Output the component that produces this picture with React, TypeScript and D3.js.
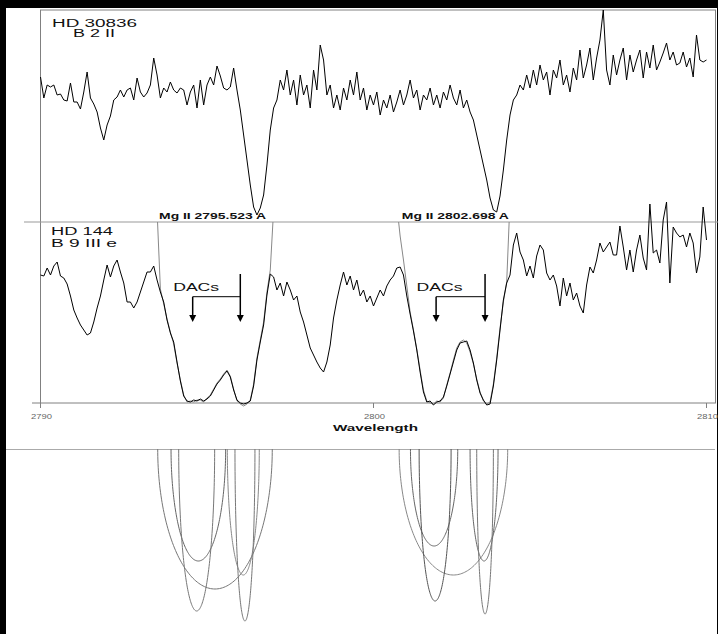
import React from 'react';
import * as d3 from 'd3';

// ---------- data ----------
const waveStart = 2790;
const waveStep = 0.1;

// HD 30836 (B2 II), relative flux, sampled every 0.1 A from 2790 A
const hd30836Flux = [
  145, 124, 137, 135, 137, 127, 128, 122, 121, 139,
  120, 120, 113, 130, 150, 124, 118, 110, 94, 82,
  97, 106, 122, 125, 132, 125, 132, 134, 122, 144,
  130, 125, 129, 137, 164, 147, 124, 134, 130, 140,
  132, 129, 134, 132, 117, 130, 137, 114, 142, 117,
  137, 145, 137, 156, 146, 134, 132, 135, 154, 132,
  112, 87, 62, 37, 15, 7, 14, 27, 57, 92,
  114, 122, 142, 132, 152, 127, 142, 117, 147, 127,
  137, 114, 152, 132, 177, 162, 127, 137, 114, 127,
  112, 134, 122, 142, 127, 150, 122, 134, 112, 127,
  117, 130, 107, 122, 114, 127, 110, 120, 132, 117,
  127, 142, 124, 132, 112, 127, 122, 134, 117, 127,
  114, 130, 122, 137, 124, 117, 132, 114, 122, 110,
  102, 87, 72, 57, 42, 24, 12, 10, 26, 52,
  82, 107, 122, 127, 137, 132, 147, 134, 152, 137,
  157, 142, 150, 127, 152, 144, 162, 137, 147, 130,
  154, 142, 172, 144, 157, 174, 142, 164, 182, 212,
  152, 137, 167, 147, 162, 174, 142, 167, 150, 162,
  172, 144, 170, 154, 177, 152, 160, 169, 179, 162,
  170, 157, 159, 170, 155, 164, 145, 187, 162, 160,
  162,
];

// HD 144 (B9 IIIe), relative flux, sampled every 0.1 A from 2790 A
const hd144Flux = [
  135, 134, 142, 135, 144, 148, 134, 132, 126, 114,
  100, 92, 85, 80, 75, 77, 88, 102, 114, 130,
  145, 133, 144, 150, 138, 127, 108, 108, 102, 108,
  118, 128, 138, 138, 144, 130, 118, 108, 90, 77,
  68, 48, 29, 14, 9, 8, 10, 9, 11, 9,
  11, 14, 20, 26, 30, 35, 39, 33, 20, 10,
  7, 6, 7, 9, 24, 50, 68, 85, 115, 136,
  133, 120, 127, 114, 128, 120, 110, 114, 98, 88,
  75, 62, 55, 48, 42, 38, 48, 65, 92, 110,
  125, 138, 125, 134, 120, 130, 114, 120, 108, 114,
  104, 112, 120, 114, 124, 130, 134, 142, 143, 135,
  114, 96, 79, 60, 38, 18, 8, 9, 5, 8,
  9, 13, 24, 36, 48, 60, 67, 68, 69, 60,
  47, 30, 17, 10, 5, 6, 24, 50, 80, 110,
  127, 135, 165, 177, 158, 150, 134, 144, 132, 154,
  165, 160, 137, 130, 135, 124, 104, 132, 114, 127,
  110, 117, 104, 97, 125, 143, 137, 150, 167, 158,
  163, 168, 155, 155, 184, 163, 140, 160, 138, 160,
  175, 152, 140, 206, 157, 160, 147, 190, 208, 127,
  183, 177, 173, 175, 163, 177, 167, 137, 153, 203,
  170,
];

// second (grey) HD 144 spectrum, only inside the Mg II troughs
const hd144AltLeftStart = 35;
const hd144AltLeft = [
  200, 121, 106, 91, 78, 66, 47, 30, 15, 8,
  9, 8, 10, 10, 8, 12, 15, 21, 27, 31,
  36, 40, 34, 21, 9, 6, 4, 6, 10, 26,
  52, 70, 88, 118, 140, 200,
];
const hd144AltRightStart = 107;
const hd144AltRight = [
  205, 174, 150, 124, 98, 80, 61, 40, 20, 9,
  7, 6, 9, 8, 12, 25, 37, 50, 62, 68,
  70, 67, 58, 46, 31, 18, 9, 6, 8, 26,
  52, 82, 108, 128, 210,
];

// model absorption components (DACs)
const compCenter = [2795.24, 2794.74, 2794.69, 2796.09, 2796.14, 2802.40, 2801.82, 2801.85, 2803.32, 2803.35];
const compHalfWidth = [1.72, 0.82, 0.54, 0.48, 0.30, 1.63, 0.71, 0.48, 0.42, 0.25];
const compDepth = [140, 112, 162, 126, 172, 126, 97, 152, 112, 165];
const compColor = ['#777', '#666', '#777', '#888', '#777', '#888', '#666', '#555', '#666', '#777'];

const xTicks = [2790, 2800, 2810];
const lineLabels = ['Mg II 2795.523 A', 'Mg II 2802.698 A'];
const lineLabelStart = [2793.56, 2800.85];
const dacShort = [2794.57, 2801.88];
const dacLong = [2796.0, 2803.35];

// ---------- chart ----------
const W = 718;
const H = 634;
const FONT = "'Liberation Sans', Arial, sans-serif";

export default function App() {
  const x = d3.scaleLinear().domain([2790, 2810]).range([40.5, 706.5]);
  const yTop = d3.scaleLinear().domain([0, 212]).range([222, 10]);
  const yBot = d3.scaleLinear().domain([0, 190]).range([410, 220]);
  const yModel = d3.scaleLinear().domain([0, 200]).range([449, 649]);

  const mk = (ys: d3.ScaleLinear<number, number>, start = 0) =>
    d3
      .line<number>()
      .x((_, i) => x(waveStart + (start + i) * waveStep))
      .y((d) => ys(d));

  const topPath = mk(yTop)(hd30836Flux) || '';
  const botPath = mk(yBot)(hd144Flux) || '';
  const altL = mk(yBot, hd144AltLeftStart)(hd144AltLeft) || '';
  const altR = mk(yBot, hd144AltRightStart)(hd144AltRight) || '';

  const theta = d3.range(0, 121).map((k) => (Math.PI * k) / 120);
  const compPaths = compCenter.map((c, j) =>
    d3
      .line<number>()
      .x((t) => x(c - compHalfWidth[j] * Math.cos(t)))
      .y((t) => yModel(compDepth[j] * Math.sin(t)))(theta) || ''
  );

  const axisCol = '#808080';

  return (
    <svg width={W} height={H} style={{ position: 'absolute', left: 0, top: 0 }}>
      <defs>
        <clipPath id="botClip">
          <rect x={0} y={222} width={W} height={200} />
        </clipPath>
      </defs>
      <rect x={0} y={0} width={W} height={H} fill="#000" />
      <rect x={6} y={8} width={711} height={H - 8} fill="#fff" />

      {/* frame */}
      <line x1={40} x2={716} y1={10} y2={10} stroke={axisCol} strokeWidth={1} />
      <line x1={715.5} x2={715.5} y1={10} y2={403} stroke={axisCol} strokeWidth={1} />
      <line x1={40.5} x2={40.5} y1={10} y2={408} stroke={axisCol} strokeWidth={1} />
      <line x1={24} x2={718} y1={222} y2={222} stroke="#999" strokeWidth={1} />
      <line x1={32} x2={716} y1={403} y2={403} stroke={axisCol} strokeWidth={1} />
      <line x1={6} x2={715} y1={449.5} y2={449.5} stroke="#aaa" strokeWidth={1} />

      {xTicks.map((t) => (
        <g key={t}>
          <line x1={x(t)} x2={x(t)} y1={403} y2={408} stroke={axisCol} />
          <text
            x={x(t) + 1}
            y={419}
            fontSize={7}
            fill="#666"
            fontFamily={FONT}
            textAnchor="middle"
            textLength={21}
            lengthAdjust="spacingAndGlyphs"
          >
            {t}
          </text>
        </g>
      ))}
      <text
        x={333}
        y={431}
        fontSize={9.5}
        fontWeight="bold"
        fontFamily={FONT}
        fill="#111"
        textLength={85}
        lengthAdjust="spacingAndGlyphs"
      >
        Wavelength
      </text>

      {/* spectra */}
      <path d={topPath} fill="none" stroke="#000" strokeWidth={1} />
      <g clipPath="url(#botClip)">
        <path d={altL} fill="none" stroke="#888" strokeWidth={1} />
        <path d={altR} fill="none" stroke="#888" strokeWidth={1} />
      </g>
      <path d={botPath} fill="none" stroke="#000" strokeWidth={1} />

      {/* star labels */}
      <g fontFamily={FONT} fontSize={10} fill="#111">
        <text x={52} y={27} textLength={85} lengthAdjust="spacingAndGlyphs">HD 30836</text>
        <text x={73} y={37} textLength={42} lengthAdjust="spacingAndGlyphs">B 2 II</text>
        <text x={51} y={235} textLength={62} lengthAdjust="spacingAndGlyphs">HD 144</text>
        <text x={51} y={247} textLength={66} lengthAdjust="spacingAndGlyphs">B 9 III e</text>
      </g>

      {lineLabels.map((s, i) => (
        <text
          key={s}
          x={x(lineLabelStart[i])}
          y={219}
          fontFamily={FONT}
          fontSize={8.5}
          fontWeight="bold"
          fill="#111"
          textLength={107}
          lengthAdjust="spacingAndGlyphs"
        >
          {s}
        </text>
      ))}

      {/* DAC arrows */}
      {dacShort.map((w, i) => {
        const xs = x(w);
        const xl = x(dacLong[i]);
        return (
          <g key={i}>
            <text
              x={xs - 19.5}
              y={291}
              fontFamily={FONT}
              fontSize={10}
              fill="#111"
              textLength={46}
              lengthAdjust="spacingAndGlyphs"
            >
              DACs
            </text>
            <line x1={xl} x2={xl} y1={274} y2={316} stroke="#000" strokeWidth={1.5} />
            <line x1={xs} x2={xl} y1={296.7} y2={296.7} stroke="#000" strokeWidth={1} />
            <line x1={xs} x2={xs} y1={296.7} y2={316} stroke="#000" strokeWidth={1.5} />
            <path d={`M${xl - 3.5},315 L${xl + 3.5},315 L${xl},322 Z`} fill="#000" />
            <path d={`M${xs - 3.5},315 L${xs + 3.5},315 L${xs},322 Z`} fill="#000" />
          </g>
        );
      })}

      {/* model components */}
      {compPaths.map((d, i) => (
        <path key={i} d={d} fill="none" stroke={compColor[i]} strokeWidth={1} />
      ))}
    </svg>
  );
}
